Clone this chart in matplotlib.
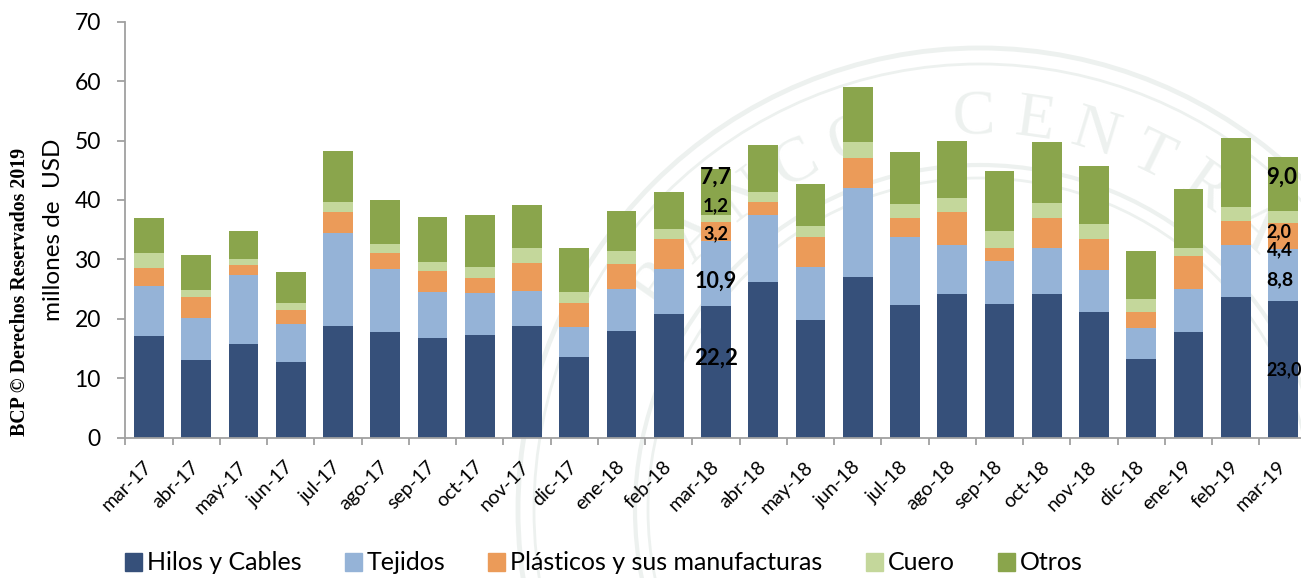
import numpy as np
import matplotlib.pyplot as plt
from matplotlib.patches import Circle, Patch

plt.rcParams['font.family'] = ['Lato', 'DejaVu Sans']

# Datos (millones de USD)
meses = ['mar-17', 'abr-17', 'may-17', 'jun-17', 'jul-17', 'ago-17', 'sep-17',
         'oct-17', 'nov-17', 'dic-17', 'ene-18', 'feb-18', 'mar-18', 'abr-18',
         'may-18', 'jun-18', 'jul-18', 'ago-18', 'sep-18', 'oct-18', 'nov-18',
         'dic-18', 'ene-19', 'feb-19', 'mar-19']
hilos = [17.1, 13.0, 15.7, 12.8, 18.8, 17.8, 16.7, 17.3, 18.8, 13.5, 17.9, 20.8, 22.2,
         26.2, 19.8, 27.1, 22.4, 24.1, 22.5, 24.1, 21.2, 13.3, 17.8, 23.7, 23.0]
tejidos = [8.4, 7.2, 11.6, 6.4, 15.7, 10.6, 7.9, 7.0, 5.9, 5.1, 7.1, 7.6, 10.9,
           11.3, 8.9, 15.0, 11.3, 8.3, 7.3, 7.9, 7.0, 5.2, 7.2, 8.7, 8.8]
plasticos = [3.1, 3.4, 1.8, 2.3, 3.5, 2.7, 3.5, 2.5, 4.7, 4.1, 4.3, 5.1, 3.2,
             2.2, 5.0, 5.0, 3.3, 5.6, 2.2, 4.9, 5.3, 2.7, 5.6, 4.1, 4.4]
cuero = [2.4, 1.2, 1.0, 1.2, 1.7, 1.5, 1.4, 1.9, 2.5, 1.8, 2.2, 1.6, 1.2,
         1.7, 1.9, 2.6, 2.3, 2.4, 2.7, 2.6, 2.5, 2.2, 1.3, 2.4, 2.0]
otros = [6.0, 6.0, 4.7, 5.1, 8.6, 7.4, 7.6, 8.8, 7.3, 7.4, 6.7, 6.3, 7.7,
         7.8, 7.1, 9.3, 8.7, 9.6, 10.2, 10.3, 9.8, 8.0, 10.0, 11.5, 9.0]

nombres = ['Hilos y Cables', 'Tejidos', 'Plásticos y sus manufacturas', 'Cuero', 'Otros']
colores = ['#36507a', '#95b3d7', '#eb9b59', '#c4d79b', '#8aa54c']
valores = [hilos, tejidos, plasticos, cuero, otros]

# barras con etiquetas de datos (indice del mes) y ajuste de posicion/tamano
etiquetados = [12, 24]
ajuste_y = {12: [2.2, -1.4, -0.3, 2.2, 2.4], 24: [0.0, -0.9, -2.4, -2.6, 1.2]}
tam_etiqueta = {12: [16, 15.5, 13, 13.5, 16.5], 24: [13, 14, 13.5, 13, 16]}
alineacion = {12: 'center', 24: 'left'}

W, H = 1301, 578
fig = plt.figure(figsize=(W / 100, H / 100), dpi=100)

# Marca de agua (sello)
bg = fig.add_axes([0, 0, 1, 1], zorder=0)
bg.set_xlim(0, W)
bg.set_ylim(H, 0)
bg.axis('off')
sello = '#edf1ef'
cx, cy = 980, 510
for r, lw in [(462, 3.5), (446, 2), (345, 3), (332, 2)]:
    bg.add_patch(Circle((cx, cy), r, fill=False, ec=sello, lw=lw))
texto_sello = 'BANCO CENTRAL DEL PARAGUAY'
for i, ch in enumerate(texto_sello):
    ang = np.deg2rad(145 - i * 9)
    px, py = cx + 392 * np.cos(ang), cy - 392 * np.sin(ang)
    if ch == ' ' or not (30 < px < W - 30 and 30 < py < H - 30):
        continue
    bg.text(px, py, ch, rotation=np.rad2deg(ang) - 90, ha='center', va='center',
            fontsize=46, color=sello, family='Liberation Serif')

# Grafico principal
ax = fig.add_axes([125.5 / W, (H - 437.7) / H, 1181 / W, 416 / H], zorder=1)
ax.patch.set_alpha(0)

x = np.arange(len(meses))
ancho = 0.63
base = np.zeros(len(meses))
for nombre, vals, col in zip(nombres, valores, colores):
    vals = np.array(vals)
    ax.bar(x, vals, ancho, bottom=base, color=col, label=nombre)
    base = base + vals

# Etiquetas de datos
for i in etiquetados:
    abajo = 0
    xt = x[i] if alineacion[i] == 'center' else x[i] - ancho / 2 - 0.03
    for k, vals in enumerate(valores):
        v = vals[i]
        ax.text(xt, abajo + v / 2 + ajuste_y[i][k], f'{v:.1f}'.replace('.', ','),
                ha=alineacion[i], va='center', fontweight='bold',
                fontsize=tam_etiqueta[i][k], clip_on=False)
        abajo += v

gris = '#a0a0a0'
ax.set_xlim(-0.5, len(meses) - 0.5)
ax.set_ylim(0, 70)
ax.set_yticks(range(0, 71, 10))
ax.set_xticks(x)
ax.set_xticklabels(meses, rotation=45, ha='right', va='center', rotation_mode='anchor')
ax.set_xticks(np.arange(-0.5, len(meses)), minor=True)
ax.tick_params(axis='x', which='major', length=0, pad=19, labelsize=14)
ax.tick_params(axis='x', which='minor', length=5, width=1.3, color=gris)
ax.tick_params(axis='y', length=5.8, width=1.3, color=gris, pad=12, labelsize=16.5)
for s in ['top', 'right']:
    ax.spines[s].set_visible(False)
for s in ['left', 'bottom']:
    ax.spines[s].set_color(gris)
    ax.spines[s].set_linewidth(1.3)

fig.text(53 / W, 1 - 230 / H, 'millones de  USD', rotation=90,
         ha='center', va='center', fontsize=17.5)
fig.text(20 / W, 1 - 292 / H, 'BCP © Derechos Reservados 2019', rotation=90,
         ha='center', va='center', fontsize=14.3, fontweight='bold',
         family='Liberation Serif')

handles = [Patch(color=c, label=n) for n, c in zip(nombres, colores)]
fig.legend(handles=handles, loc='center', bbox_to_anchor=(0.464, 1 - 563 / H),
           ncol=5, frameon=False, fontsize=18, handlelength=0.68, handleheight=0.7,
           handletextpad=0.2, columnspacing=1.72)

fig.savefig('out.png', dpi=100)
